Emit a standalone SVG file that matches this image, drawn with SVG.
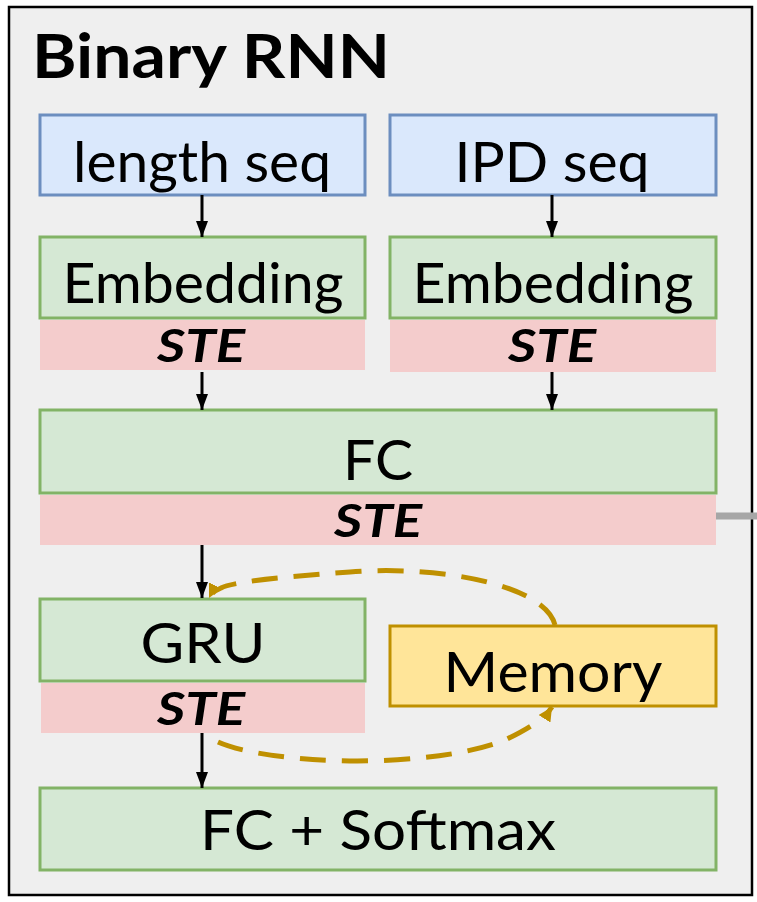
<svg xmlns="http://www.w3.org/2000/svg" width="757" height="902" viewBox="0 0 757 902">
<style>
.t{font-family:Lato,"Liberation Sans",sans-serif;font-size:57px;fill:#000;text-anchor:middle}
.ste{font-family:Lato,"Liberation Sans",sans-serif;font-size:45px;font-weight:bold;font-style:italic;fill:#000;text-anchor:middle}
.blue{fill:#dae8fc;stroke:#6c8ebf;stroke-width:3}
.green{fill:#d5e8d4;stroke:#82b366;stroke-width:3}
.yellow{fill:#ffe599;stroke:#bf9000;stroke-width:3}
.pink{fill:#f4cccc}
.arr{stroke:#000;stroke-width:3;fill:none;marker-end:url(#ah)}
.dash{stroke:#bf9000;stroke-width:5;fill:none;stroke-dasharray:26 16;marker-end:url(#ahy)}
</style>
<defs>
<marker id="ah" markerWidth="16" markerHeight="12" refX="16" refY="6" orient="auto" markerUnits="userSpaceOnUse">
<path d="M0 0 L16 6 L0 12 Z" fill="#000"/>
</marker>
<marker id="ahy" markerWidth="14" markerHeight="14" refX="14" refY="7" orient="auto" markerUnits="userSpaceOnUse">
<path d="M0 0 L14 7 L0 14 Z" fill="#bf9000"/>
</marker>
</defs>
<rect x="9" y="7" width="743" height="888" fill="#efefef" stroke="#000" stroke-width="2.5"/>
<text x="32" y="78" font-family="Lato,'Liberation Sans',sans-serif" font-size="62" font-weight="bold" textLength="358" lengthAdjust="spacingAndGlyphs">Binary RNN</text>
<line x1="697" y1="516" x2="757" y2="516" stroke="#a6a6a6" stroke-width="7"/>
<g id="length-seq"><rect class="blue" x="40" y="115" width="325" height="80"/><text class="t" x="202" y="182" textLength="258" lengthAdjust="spacingAndGlyphs">length seq</text></g>
<g id="ipd-seq"><rect class="blue" x="390" y="115" width="326" height="80"/><text class="t" x="552" y="182" textLength="195" lengthAdjust="spacingAndGlyphs">IPD seq</text></g>
<g id="emb1"><rect class="green" x="40" y="237" width="325" height="81"/><text class="t" x="203" y="303" textLength="281" lengthAdjust="spacingAndGlyphs">Embedding</text></g>
<g id="ste1"><rect class="pink" x="40" y="320" width="325" height="50"/><text class="ste" x="201" y="362" textLength="88" lengthAdjust="spacingAndGlyphs">STE</text></g>
<g id="emb2"><rect class="green" x="390" y="237" width="326" height="81"/><text class="t" x="553" y="303" textLength="281" lengthAdjust="spacingAndGlyphs">Embedding</text></g>
<g id="ste2"><rect class="pink" x="390" y="320" width="326" height="52"/><text class="ste" x="552" y="362" textLength="88" lengthAdjust="spacingAndGlyphs">STE</text></g>
<g id="fc"><rect class="green" x="40" y="410" width="676" height="83"/><text class="t" x="378" y="480" textLength="70" lengthAdjust="spacingAndGlyphs">FC</text></g>
<g id="ste3"><rect class="pink" x="40" y="495" width="676" height="50"/><text class="ste" x="378" y="537" textLength="88" lengthAdjust="spacingAndGlyphs">STE</text></g>
<g id="gru"><rect class="green" x="40" y="599" width="325" height="82"/><text class="t" x="203" y="663" textLength="125" lengthAdjust="spacingAndGlyphs">GRU</text></g>
<g id="ste4"><rect class="pink" x="41" y="683" width="324" height="50"/><text class="ste" x="201" y="725" textLength="88" lengthAdjust="spacingAndGlyphs">STE</text></g>
<g id="memory"><rect class="yellow" x="390" y="626" width="326" height="80"/><text class="t" x="553" y="692" textLength="219" lengthAdjust="spacingAndGlyphs">Memory</text></g>
<g id="fc-softmax"><rect class="green" x="40" y="788" width="676" height="82"/><text class="t" x="378" y="850" textLength="356" lengthAdjust="spacingAndGlyphs">FC + Softmax</text></g>
<g id="connectors">
<line class="arr" x1="202" y1="195" x2="202" y2="237"/>
<line class="arr" x1="552" y1="195" x2="552" y2="237"/>
<line class="arr" x1="202" y1="372" x2="202" y2="410"/>
<line class="arr" x1="552" y1="372" x2="552" y2="410"/>
<line class="arr" x1="202" y1="545" x2="202" y2="598"/>
<line class="arr" x1="202" y1="733" x2="202" y2="788"/>
<path class="dash" d="M555 625 C545 585 440 565 350 572 C280 577 232 582 221 588 C214 591 211 594 209 598"/>
<path class="dash" d="M218 742 C270 765 430 770 505 740 C530 728 545 718 552 707"/>
</g>
</svg>
